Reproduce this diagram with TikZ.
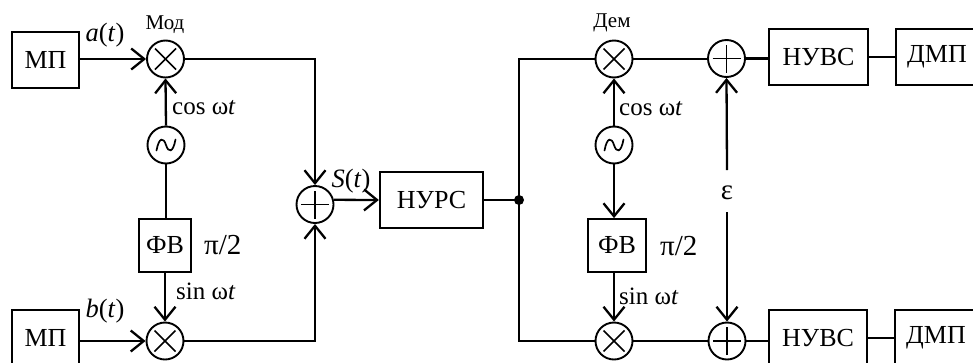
\documentclass[tikz,border=0pt]{standalone}
\usepackage{fontspec}
\setmainfont{Liberation Serif}
\usetikzlibrary{arrows.meta}
\newcommand{\fs}[1]{\fontsize{#1}{#1}\selectfont}
\tikzset{
  x=1pt,y=-1pt,
  wire/.style={line width=2.3pt},
  arr/.style={wire,-{Straight Barb[length=13pt,width=21pt,line width=2.3pt]}},
  block/.style={draw,line width=1.8pt,inner sep=0pt,font=\fs{26}},
  opnode/.style={draw,circle,fill=white,line width=1.9pt,minimum size=37pt,inner sep=0pt},
  mulnode/.style={opnode,path picture={
    \draw[line width=1.5pt] ([shift={(-10.5pt,-10.5pt)}]path picture bounding box.center) -- ([shift={(10.5pt,10.5pt)}]path picture bounding box.center);
    \draw[line width=1.5pt] ([shift={(-10.5pt,10.5pt)}]path picture bounding box.center) -- ([shift={(10.5pt,-10.5pt)}]path picture bounding box.center);}},
  addnode/.style={opnode,path picture={
    \draw[line width=1.5pt] ([xshift=-14pt]path picture bounding box.center) -- ([xshift=14pt]path picture bounding box.center);
    \draw[line width=1.5pt] ([yshift=-14pt]path picture bounding box.center) -- ([yshift=14pt]path picture bounding box.center);}},
  oscnode/.style={opnode,path picture={
    \draw[line width=1.7pt,line cap=round,shift={(path picture bounding box.center)}]
      (-9.5pt,-5.5pt) .. controls (-7pt,8pt) and (-2.5pt,8pt) .. (0pt,0pt)
      .. controls (2.5pt,-8pt) and (7pt,-8pt) .. (9.5pt,5.5pt);}},
  lab/.style={inner sep=0pt,font=\fs{25}},
  sig/.style={inner sep=0pt,font=\fs{26.5}},
  small/.style={inner sep=0pt,font=\fs{21}},
  phase/.style={inner sep=0pt,font=\fs{29}},
}
\begin{document}
\begin{tikzpicture}
\useasboundingbox (0,0) rectangle (973,362);
\clip (0,0) rectangle (973,362);
% left
\node[block,minimum width=67pt,minimum height=56pt] (mp1) at (45.5,60) {МП};
\node[block,minimum width=67pt,minimum height=56pt] (mp2) at (45.5,338) {МП};
\node[mulnode] (mod1) at (165.5,59) {};
\node[mulnode] (mod2) at (165,341) {};
\node[oscnode] (osc1) at (166,145) {};
\node[block,minimum width=52pt,minimum height=53pt] (fv1) at (165,245.5) {ФВ};
\node[addnode] (sum) at (315,204.5) {};
\node[block,minimum width=103.5pt,minimum height=55.5pt] (nurs) at (431.5,200) {НУРС};
\node[circle,fill=black,minimum size=10pt,inner sep=0pt] (dot) at (519,200) {};
% right
\node[mulnode] (dem1) at (614,59) {};
\node[mulnode] (dem2) at (614,341) {};
\node[oscnode] (osc2) at (614,145) {};
\node[block,minimum width=58pt,minimum height=53pt] (fv2) at (617,245.5) {ФВ};
\node[addnode] (add1) at (726.5,58.5) {};
\node[addnode] (add2) at (727,341) {};
\node[block,minimum width=99pt,minimum height=56pt] (nuvs1) at (818.5,57) {НУВС};
\node[block,minimum width=98pt,minimum height=56pt] (nuvs2) at (818,338) {НУВС};
\node[block,minimum width=82pt,minimum height=56pt] (dmp1) at (937,57) {ДМП};
\node[block,minimum width=82pt,minimum height=56pt] (dmp2) at (936,338) {ДМП};
% labels
\node[small] (lmod) at (165,25) {Мод};
\node[small] (ldem) at (612,23) {Дем};
\node[sig] (la) at (105,35) {\textit{a}(\textit{t})};
\node[sig] (lb) at (105,311) {\textit{b}(\textit{t})};
\node[sig] (ls) at (351,181) {\textit{S}(\textit{t})};
\node[lab,anchor=west] (lc1) at (172,108) {cos ω\textit{t}};
\node[lab,anchor=west] (ls1) at (176,291) {sin ω\textit{t}};
\node[lab,anchor=west] (lc2) at (619,109) {cos ω\textit{t}};
\node[lab,anchor=west] (ls2) at (619,296) {sin ω\textit{t}};
\node[phase,anchor=west] (lp1) at (204,245) {π/2};
\node[phase,anchor=west] (lp2) at (660,246) {π/2};
\node[phase] (eps) at (727,193) {ε};
\coordinate (e1) at (727,170);
\coordinate (e2) at (727,212);
% connectors
\draw[arr] (mp1.east |- mod1) -- (mod1.west);
\draw[arr] (mp2.east |- mod2) -- (mod2.west);
\draw[arr] (osc1.north) -- (mod1.south);
\draw[wire] (osc1.south) -- (osc1.south |- fv1.north);
\draw[arr] (mod2.north |- fv1.south) -- (mod2.north);
\draw[arr] (mod1.east) -| (sum.north);
\draw[arr] (mod2.east) -| (sum.south);
\draw[arr] (sum.14) -- (nurs.west);
\draw[wire] (nurs.east) -- (dot.center);
\draw[wire] (dem1.west) -| (dot.center) |- (dem2.west);
\draw[arr] (osc2.north) -- (dem1.south);
\draw[arr] (osc2.south) -- (osc2.south |- fv2.north);
\draw[arr] (dem2.north |- fv2.south) -- (dem2.north);
\draw[wire] (dem1.east) -- (dem1.east -| add1.west);
\draw[wire] (dem2.east) -- (add2.west);
\draw[wire] (add1.east) -- (add1.east -| nuvs1.west);
\draw[wire] (add2.east) -- (add2.east -| nuvs2.west);
\draw[wire] (nuvs1.east) -- (nuvs1.east -| dmp1.west);
\draw[wire] (nuvs2.east) -- (nuvs2.east -| dmp2.west);
\draw[arr] (e1) -- (add1.south);
\draw[arr] (e2) -- (add2.north);
\end{tikzpicture}
\end{document}
